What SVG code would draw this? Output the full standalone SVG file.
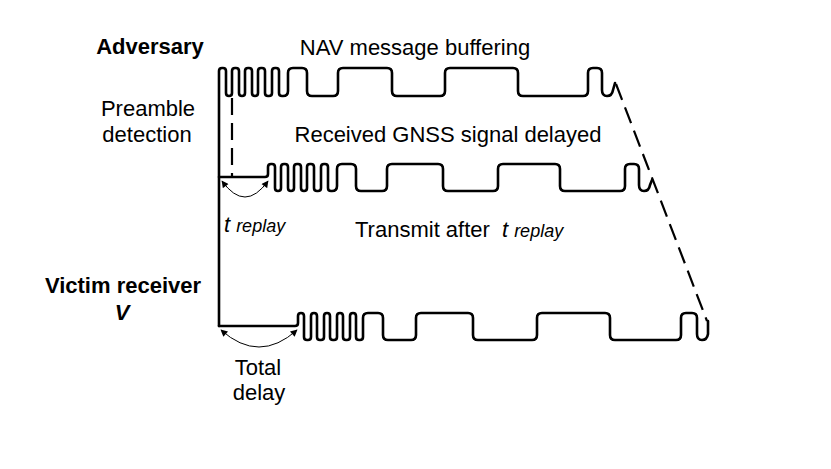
<svg xmlns="http://www.w3.org/2000/svg" width="831" height="469" viewBox="0 0 831 469">
<style>
text{font-family:"Liberation Sans",Arial,sans-serif;fill:#000}
.lbl{font-size:22px}
.b{font-weight:bold}
.it{font-style:italic}
.sub{font-size:18px;font-style:italic}
.wave{fill:none;stroke:#000;stroke-width:2.6;stroke-linejoin:round;stroke-linecap:round}
.dash{fill:none;stroke:#000;stroke-width:2.2;stroke-dasharray:17 8}
.arc{fill:none;stroke:#000;stroke-width:1}
</style>
<defs>
<marker id="ah" viewBox="0 0 10 10" refX="9" refY="5" markerWidth="8" markerHeight="7" markerUnits="userSpaceOnUse" orient="auto-start-reverse"><path d="M0,0 L10,5 L0,10 z" fill="#000"/></marker>
</defs>
<rect width="831" height="469" fill="#fff"/>

<g id="adversary-signal">
<path class="wave" d="M219,326 V71 q0,-3 3,-3 H223 q3,0 3,3 V93 q0,3 3,3 H229 q3,0 3,-3 V71 q0,-3 3,-3 H236 q3,0 3,3 V93 q0,3 3,3 H242 q3,0 3,-3 V71 q0,-3 3,-3 H249 q3,0 3,3 V93 q0,3 3,3 H255 q3,0 3,-3 V71 q0,-3 3,-3 H262 q3,0 3,3 V93 q0,3 3,3 H269 q3,0 3,-3 V71 q0,-3 3,-3 H276 q3,0 3,3 V93 q0,3 3,3 H283 q5,0 5,-5 V73 q0,-5 5,-5 H302 q5,0 5,5 V91 q0,5 5,5 H333 q5,0 5,-5 V73 q0,-5 5,-5 H387 q5,0 5,5 V91 q0,5 5,5 H440 q5,0 5,-5 V73 q0,-5 5,-5 H513 q5,0 5,5 V91 q0,5 5,5 H583 q5,0 5,-5 V73 q0,-5 5,-5 H597 q5,0 5,5 V90 q0,6 5,6 q5,0 6,-6 L615,83"/>
</g>

<g id="delayed-signal">
<path class="wave" d="M219,177 H265 q3,0 3,-3 V167 q0,-3 3,-3 H272 q3,0 3,3 V188 q0,3 3,3 H278 q3,0 3,-3 V167 q0,-3 3,-3 H285 q3,0 3,3 V188 q0,3 3,3 H291 q3,0 3,-3 V167 q0,-3 3,-3 H298 q3,0 3,3 V188 q0,3 3,3 H304 q3,0 3,-3 V167 q0,-3 3,-3 H311 q3,0 3,3 V188 q0,3 3,3 H318 q3,0 3,-3 V167 q0,-3 3,-3 H325 q3,0 3,3 V188 q0,3 3,3 H332 q5,0 5,-5 V169 q0,-5 5,-5 H351 q5,0 5,5 V186 q0,5 5,5 H382 q5,0 5,-5 V169 q0,-5 5,-5 H438 q5,0 5,5 V186 q0,5 5,5 H493 q5,0 5,-5 V169 q0,-5 5,-5 H555 q5,0 5,5 V186 q0,5 5,5 H620 q5,0 5,-5 V169 q0,-5 5,-5 H634 q5,0 5,5 V185 q0,6 5,6 q5,0 6,-6 L652,180"/>
</g>

<g id="victim-signal">
<path class="wave" d="M219,326 H295 q3,0 3,-3 V316 q0,-3 3,-3 H301 q3,0 3,3 V337 q0,3 3,3 H308 q3,0 3,-3 V316 q0,-3 3,-3 H314 q3,0 3,3 V337 q0,3 3,3 H321 q3,0 3,-3 V316 q0,-3 3,-3 H327 q3,0 3,3 V337 q0,3 3,3 H334 q3,0 3,-3 V316 q0,-3 3,-3 H340 q3,0 3,3 V337 q0,3 3,3 H347 q3,0 3,-3 V316 q0,-3 3,-3 H353 q3,0 3,3 V337 q0,3 3,3 H360 q3,0 3,-3 V318 q0,-5 5,-5 H378 q5,0 5,5 V335 q0,5 5,5 H411 q5,0 5,-5 V318 q0,-5 5,-5 H468 q5,0 5,5 V335 q0,5 5,5 H532 q5,0 5,-5 V318 q0,-5 5,-5 H605 q5,0 5,5 V335 q0,5 5,5 H676 q5,0 5,-5 V318 q0,-5 5,-5 H692 q5,0 5,5 V334 q0,6 5,6 q5,0 6,-6 L708,321"/>
</g>

<g id="connectors">
<path class="dash" d="M232,98 L232,176"/>
<path class="dash" d="M616,84 L707,321"/>
<path class="arc" d="M222,181 Q245,213 268,181" marker-start="url(#ah)" marker-end="url(#ah)"/>
<path class="arc" d="M221,330 Q259,364 297,330" marker-start="url(#ah)" marker-end="url(#ah)"/>
</g>

<g id="labels">
<text class="lbl b" x="150" y="54" text-anchor="middle">Adversary</text>
<text class="lbl" x="415" y="55" text-anchor="middle">NAV message buffering</text>
<text class="lbl" x="148" y="116" text-anchor="middle">Preamble</text>
<text class="lbl" x="147" y="142" text-anchor="middle">detection</text>
<text class="lbl" x="448" y="142" text-anchor="middle">Received GNSS signal delayed</text>
<text x="224" y="232"><tspan class="lbl it">t</tspan><tspan class="sub" dx="6">replay</tspan></text>
<text x="355" y="237"><tspan class="lbl">Transmit after </tspan><tspan class="lbl it" dx="6">t</tspan><tspan class="sub" dx="6">replay</tspan></text>
<text class="lbl b" x="123" y="293" text-anchor="middle">Victim receiver</text>
<text class="lbl b it" x="122" y="320" text-anchor="middle">V</text>
<text class="lbl" x="258" y="375" text-anchor="middle">Total</text>
<text class="lbl" x="259" y="400" text-anchor="middle">delay</text>
</g>
</svg>
